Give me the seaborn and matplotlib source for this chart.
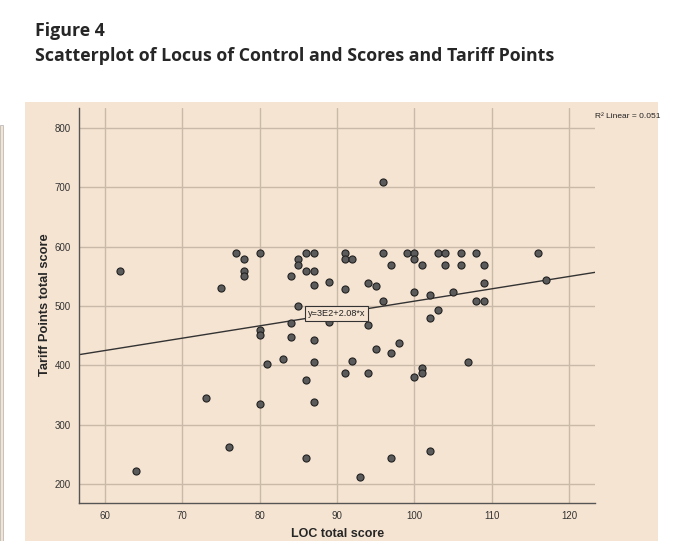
import numpy as np
import pandas as pd
import matplotlib
matplotlib.use("Agg")
import matplotlib.pyplot as plt
import seaborn as sns
from matplotlib.patches import Rectangle

loc_score = [62, 75, 77, 78, 78, 78, 80, 84, 85, 85, 86, 87, 86, 87, 87, 89, 85,
             80, 80, 84, 84, 87, 89, 81, 83, 87, 86, 87, 73, 80, 76, 86, 64,
             96, 91, 91, 92, 96, 97, 99, 100, 100, 101, 103, 104, 104, 106, 106,
             108, 109, 109, 109, 108, 116, 117, 94, 95, 91, 96, 100, 102, 105, 103, 102,
             94, 95, 97, 98, 92, 91, 94, 100, 101, 101, 107, 97, 102, 93]
tariff_points = [560, 530, 590, 580, 560, 550, 590, 550, 580, 570, 590, 590, 560, 560, 535, 540, 500,
                 460, 452, 472, 448, 442, 473, 403, 411, 406, 376, 339, 345, 335, 262, 244, 222,
                 709, 590, 579, 579, 590, 569, 590, 590, 579, 569, 590, 590, 569, 590, 569,
                 590, 569, 539, 508, 508, 590, 544, 539, 534, 529, 508, 524, 519, 523, 493, 480,
                 468, 427, 421, 437, 408, 388, 388, 381, 396, 388, 406, 244, 256, 212]

fit_intercept = 300.3
fit_slope = 2.08
r2_text = "R\u00b2 Linear = 0.051"
fit_label = "y=3E2+2.08*x"

x_ticks = [60, 70, 80, 90, 100, 110, 120]
y_ticks = [200, 300, 400, 500, 600, 700, 800]

bg = "#F6E4D2"
grid_col = "#C9B9A8"

sns.set_theme(style="white")
plt.rcParams['font.family'] = ['Liberation Sans Narrow', 'Liberation Sans', 'DejaVu Sans']

df = pd.DataFrame({"loc": loc_score, "tariff": tariff_points})

fig = plt.figure(figsize=(6.74, 5.41), dpi=100, facecolor="white")
fig.patches.append(Rectangle((25 / 674, 0), 633 / 674, 1 - 102 / 541,
                             transform=fig.transFigure, facecolor=bg,
                             edgecolor="none", zorder=-5))
# sliver of neighbouring panel at the far left
fig.patches.append(Rectangle((0, 0), 3 / 674, 1 - 125 / 541,
                             transform=fig.transFigure, facecolor=bg,
                             edgecolor="#bbbbbb", lw=0.6, zorder=-5))

ax = fig.add_axes([79 / 674, 1 - 503 / 541, 516 / 674, 395 / 541])
ax.set_zorder(1)
ax.set_facecolor(bg)

sns.scatterplot(data=df, x="loc", y="tariff", ax=ax, s=26, color="#5b5b5b",
                edgecolor="#222222", linewidth=0.8, zorder=3, legend=False)

ax.set_xlim(56.64, 123.36)
ax.set_ylim(168, 834)
xs = np.array(ax.get_xlim())
ax.plot(xs, fit_intercept + fit_slope * xs, color="#333333", lw=1.0, zorder=2)

ax.set_xticks(x_ticks)
ax.set_yticks(y_ticks)
ax.grid(True, color=grid_col, lw=1.0, zorder=0)
ax.set_axisbelow(True)
for side in ["top", "right"]:
    ax.spines[side].set_visible(False)
for side in ["left", "bottom"]:
    ax.spines[side].set_color("#555555")
    ax.spines[side].set_linewidth(1.0)
ax.tick_params(length=0, labelsize=7, colors="#333333", pad=6)
ax.set_xlabel("")
ax.set_ylabel("")

ax.text(90, fit_intercept + fit_slope * 90, fit_label, fontsize=6.6, ha="center",
        va="center", color="#222222", zorder=4,
        bbox=dict(boxstyle="square,pad=0.3", fc=bg, ec="#333333", lw=0.8))

fig.text(595 / 674, 1 - 116 / 541, r2_text, fontsize=6, color="#222222",
         ha="left", va="center")
fig.text(45 / 674, 1 - 305 / 541, "Tariff Points total score", rotation=90,
         fontsize=9.3, fontweight="bold", ha="center", va="center",
         family=['Liberation Sans', 'DejaVu Sans'])
fig.text(338 / 674, 1 / 541, "LOC total score", fontsize=9,
         fontweight="bold", ha="center", va="bottom",
         family=['Liberation Sans', 'DejaVu Sans'])

fig.text(35 / 674, 1 - 31 / 541, "Figure 4", fontsize=12.8, fontweight="bold",
         ha="left", va="center", family=['Open Sans', 'DejaVu Sans'])
fig.text(35 / 674, 1 - 56 / 541,
         "Scatterplot of Locus of Control and Scores and Tariff Points",
         fontsize=12.8, fontweight="bold", ha="left", va="center",
         family=['Open Sans', 'DejaVu Sans'])

fig.savefig("out.png", dpi=100, facecolor="white")
